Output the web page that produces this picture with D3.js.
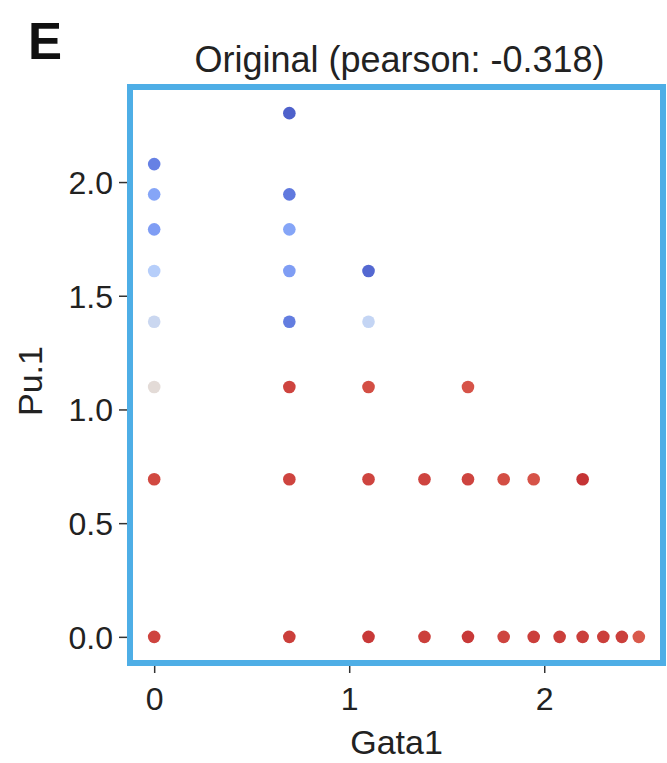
<!DOCTYPE html>
<html>
<head>
<meta charset="utf-8">
<script src="https://cdn.jsdelivr.net/npm/d3@7"></script>
<style>
  body { margin: 0; background: #fff; }
  svg { display: block; font-family: "Liberation Sans", Arial, sans-serif; }
</style>
</head>
<body>
<div id="chart"></div>
<script>
// Gata1 / Pu.1 expression per cell, with the colour value (0 = blue, 1 = red)
const gata1 = [
  0, 0, 0, 0, 0, 0, 0, 0,
  0.693, 0.693, 0.693, 0.693, 0.693, 0.693, 0.693, 0.693,
  1.099, 1.099, 1.099, 1.099, 1.099,
  1.386, 1.386,
  1.609, 1.609, 1.609,
  1.792, 1.792,
  1.946, 1.946,
  2.079,
  2.197, 2.197,
  2.303, 2.398, 2.485
];
const pu1 = [
  0, 0.693, 1.099, 1.386, 1.609, 1.792, 1.946, 2.079,
  0, 0.693, 1.099, 1.386, 1.609, 1.792, 1.946, 2.303,
  0, 0.693, 1.099, 1.386, 1.609,
  0, 0.693,
  0, 0.693, 1.099,
  0, 0.693,
  0, 0.693,
  0,
  0, 0.693,
  0, 0, 0
];
const colorVal = [
  0.94, 0.93, 0.52, 0.42, 0.35, 0.18, 0.2, 0.1,
  0.95, 0.94, 0.94, 0.09, 0.18, 0.2, 0.08, 0.02,
  0.96, 0.94, 0.92, 0.4, 0.04,
  0.95, 0.94,
  0.96, 0.94, 0.91,
  0.94, 0.92,
  0.95, 0.91,
  0.95,
  0.95, 0.97,
  0.95, 0.95, 0.9
];
const xTicks = [0, 1, 2];
const yTicks = [0, 0.5, 1, 1.5, 2];

const width = 667, height = 763;
const frame = { left: 130, top: 87, right: 663, bottom: 663 };

const svg = d3.select('#chart').append('svg')
  .attr('width', width)
  .attr('height', height);

const x = d3.scaleLinear().domain([-0.124, 2.609]).range([frame.left, frame.right]);
const y = d3.scaleLinear().domain([-0.115, 2.418]).range([frame.bottom, frame.top]);

// matplotlib coolwarm (red end nudged to the picture's tone)
const coolwarm = d3.scaleLinear()
  .domain([0, 0.125, 0.25, 0.375, 0.5, 0.625, 0.75, 0.875, 1])
  .range(['#3b4cc0', '#6282ea', '#8db0fe', '#b9d0f9', '#dddcdc', '#f5c4ac', '#f49a7b', '#de5a45', '#b8141c'])
  .interpolate(d3.interpolateRgb);

const points = gata1.map((g, i) => ({ x: g, y: pu1[i], c: colorVal[i] }));

svg.append('g')
  .selectAll('circle')
  .data(points)
  .enter()
  .append('circle')
  .attr('cx', d => x(d.x))
  .attr('cy', d => y(d.y))
  .attr('r', 6.3)
  .attr('fill', d => coolwarm(d.c))
  .attr('opacity', 0.93);

// Blue frame
svg.append('rect')
  .attr('x', frame.left)
  .attr('y', frame.top)
  .attr('width', frame.right - frame.left)
  .attr('height', frame.bottom - frame.top)
  .attr('fill', 'none')
  .attr('stroke', '#4eaee6')
  .attr('stroke-width', 6);

// Axes
const xAxis = svg.append('g')
  .attr('transform', `translate(0,${frame.bottom + 3})`)
  .call(d3.axisBottom(x).tickValues(xTicks).tickFormat(d3.format('d')).tickSize(7).tickPadding(14));
const yAxis = svg.append('g')
  .attr('transform', `translate(${frame.left - 3},0)`)
  .call(d3.axisLeft(y).tickValues(yTicks).tickFormat(d3.format('.1f')).tickSize(8).tickPadding(6));

[xAxis, yAxis].forEach(a => {
  a.select('.domain').remove();
  a.selectAll('.tick line').attr('stroke', '#333').attr('stroke-width', 1.5);
  a.selectAll('.tick text')
    .attr('fill', '#222')
    .attr('font-size', '32px')
    .attr('font-family', '"Liberation Sans", Arial, sans-serif');
});
yAxis.selectAll('.tick text').attr('dy', '0.36em');

// Labels
svg.append('text')
  .attr('x', (frame.left + frame.right) / 2 + 3)
  .attr('y', 72)
  .attr('text-anchor', 'middle')
  .attr('font-size', '36px')
  .attr('fill', '#222')
  .text('Original (pearson: -0.318)');

svg.append('text')
  .attr('x', 28)
  .attr('y', 59)
  .attr('font-size', '51px')
  .attr('font-weight', 'bold')
  .attr('fill', '#111')
  .text('E');

svg.append('text')
  .attr('x', (frame.left + frame.right) / 2)
  .attr('y', 754)
  .attr('text-anchor', 'middle')
  .attr('font-size', '34px')
  .attr('fill', '#222')
  .text('Gata1');

svg.append('text')
  .attr('transform', `translate(42,${(frame.top + frame.bottom) / 2 + 6}) rotate(-90)`)
  .attr('text-anchor', 'middle')
  .attr('font-size', '34px')
  .attr('fill', '#222')
  .text('Pu.1');
</script>
</body>
</html>
